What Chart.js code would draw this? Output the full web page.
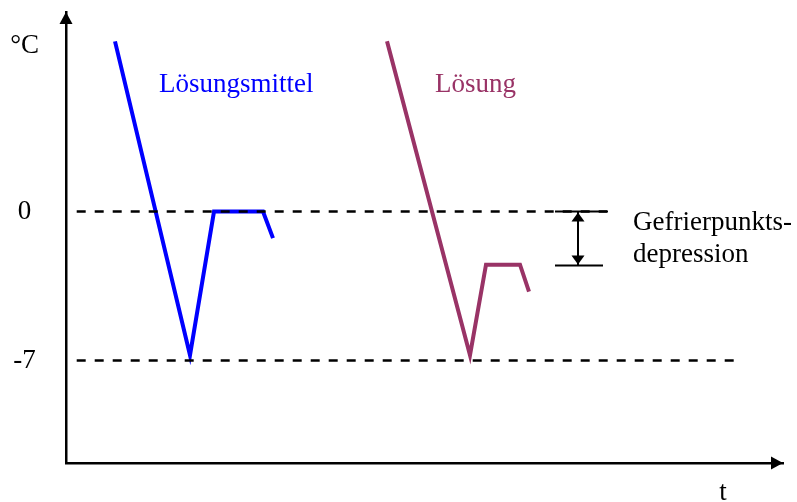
<!DOCTYPE html>
<html>
<head>
<meta charset="utf-8">
<script src="https://cdn.jsdelivr.net/npm/chart.js@4.4.1/dist/chart.umd.min.js"></script>
<style>
  html, body { margin: 0; padding: 0; background: #fff; }
  #wrap { width: 797px; height: 502px; }
</style>
</head>
<body>
<div id="wrap"><canvas id="grafico"></canvas></div>
<script>
// Datos (t en unidades arbitrarias, temperatura en °C)
const solventeT = [4.9, 12.4, 14.8, 19.7, 20.7];
const solventeC = [8.0, -6.75, 0, 0, -1.25];
const solucionT = [32.1, 40.4, 42.0, 45.4, 46.3];
const solucionC = [8.0, -6.75, -2.5, -2.5, -3.76];

// lineas de referencia punteadas
const refCeroT = [1.07, 54.1];
const refMenos7T = [1.07, 67.5];

// corchete "Gefrierpunktsdepression"
const corcheteSupT = [48.9, 54.2];
const corcheteInfT = [48.9, 53.7];
const corcheteY = [0, -2.54];
const flechaT = 51.2;

const yTicks = [-7, 0, 7.8];
const yTickLabels = ['-7', '0', '°C'];
const xTicks = [65.7];
const xTickLabels = ['t'];

const textos = [
  { texto: 'Lösungsmittel', x: 9.3, y: 5.64, color: '#0000ff' },
  { texto: 'Lösung', x: 36.9, y: 5.64, color: '#993366' },
  { texto: 'Gefrierpunkts-', x: 56.7, y: -0.86, color: '#000' },
  { texto: 'depression', x: 56.7, y: -2.35, color: '#000' }
];

const fuente = "'Times New Roman', 'Liberation Serif', serif";

const pares = (xs, ys) => xs.map((x, i) => ({ x, y: ys[i] }));

const pluginDibujo = {
  id: 'dibujo',
  afterDatasetsDraw(chart) {
    const ctx = chart.ctx;
    const xs = chart.scales.x, ys = chart.scales.y;
    const area = chart.chartArea;
    ctx.save();
    ctx.fillStyle = '#000';
    // flechas de los ejes
    ctx.beginPath();
    ctx.moveTo(area.left, area.top);
    ctx.lineTo(area.left - 6.5, area.top + 12);
    ctx.lineTo(area.left + 6.5, area.top + 12);
    ctx.closePath();
    ctx.fill();
    ctx.beginPath();
    ctx.moveTo(area.right, area.bottom);
    ctx.lineTo(area.right - 12, area.bottom - 6.5);
    ctx.lineTo(area.right - 12, area.bottom + 6.5);
    ctx.closePath();
    ctx.fill();
    // puntas de la flecha doble
    const fx = xs.getPixelForValue(flechaT);
    const y1 = ys.getPixelForValue(corcheteY[0]);
    const y2 = ys.getPixelForValue(corcheteY[1]);
    ctx.beginPath();
    ctx.moveTo(fx, y1 + 1);
    ctx.lineTo(fx - 6.5, y1 + 10);
    ctx.lineTo(fx + 6.5, y1 + 10);
    ctx.closePath();
    ctx.fill();
    ctx.beginPath();
    ctx.moveTo(fx, y2 - 1);
    ctx.lineTo(fx - 6.5, y2 - 10);
    ctx.lineTo(fx + 6.5, y2 - 10);
    ctx.closePath();
    ctx.fill();
    // textos
    ctx.font = '27px ' + fuente;
    ctx.textAlign = 'left';
    ctx.textBaseline = 'alphabetic';
    textos.forEach(t => {
      ctx.fillStyle = t.color;
      ctx.fillText(t.texto, xs.getPixelForValue(t.x), ys.getPixelForValue(t.y));
    });
    ctx.restore();
  }
};

const lineaNegra = (data, dash, ancho) => ({
  data,
  borderColor: '#000',
  borderWidth: ancho,
  borderDash: dash,
  pointRadius: 0,
  tension: 0
});

new Chart(document.getElementById('grafico').getContext('2d'), {
  type: 'line',
  data: {
    datasets: [
      lineaNegra(pares(refCeroT, [0, 0]), [9, 9], 2.5),
      lineaNegra(pares(refMenos7T, [-7, -7]), [9, 9], 2.5),
      lineaNegra(pares(corcheteSupT, [corcheteY[0], corcheteY[0]]), [], 2),
      lineaNegra(pares(corcheteInfT, [corcheteY[1], corcheteY[1]]), [], 2),
      lineaNegra(pares([flechaT, flechaT], corcheteY), [], 2),
      {
        label: 'Lösungsmittel',
        data: pares(solventeT, solventeC),
        borderColor: '#0000ff',
        borderWidth: 4,
        pointRadius: 0,
        tension: 0
      },
      {
        label: 'Lösung',
        data: pares(solucionT, solucionC),
        borderColor: '#993366',
        borderWidth: 4,
        pointRadius: 0,
        tension: 0
      }
    ]
  },
  options: {
    responsive: true,
    maintainAspectRatio: false,
    animation: false,
    layout: { padding: { top: 12, right: 14, left: 0, bottom: 0 } },
    plugins: { legend: { display: false }, tooltip: { enabled: false } },
    scales: {
      x: {
        type: 'linear',
        min: 0,
        max: 71.7,
        grid: { display: false, drawTicks: false },
        border: { display: true, color: '#000', width: 2.5 },
        afterBuildTicks: s => { s.ticks = xTicks.map(v => ({ value: v })); },
        afterFit: s => { s.height = 39; s.paddingLeft = 0; s.paddingRight = 0; },
        ticks: {
          padding: 14,
          color: '#000',
          font: { family: fuente, size: 27 },
          callback: (v, i) => xTickLabels[i]
        }
      },
      y: {
        type: 'linear',
        min: -11.82,
        max: 9.38,
        grid: { display: false, drawTicks: false },
        border: { display: true, color: '#000', width: 2.5 },
        afterBuildTicks: s => { s.ticks = yTicks.map(v => ({ value: v })); },
        afterFit: s => { s.width = 66; s.paddingTop = 0; s.paddingBottom = 0; },
        ticks: {
          padding: 27,
          crossAlign: 'center',
          color: '#000',
          font: { family: fuente, size: 27 },
          callback: (v, i) => yTickLabels[i]
        }
      }
    }
  },
  plugins: [pluginDibujo]
});
</script>
</body>
</html>
